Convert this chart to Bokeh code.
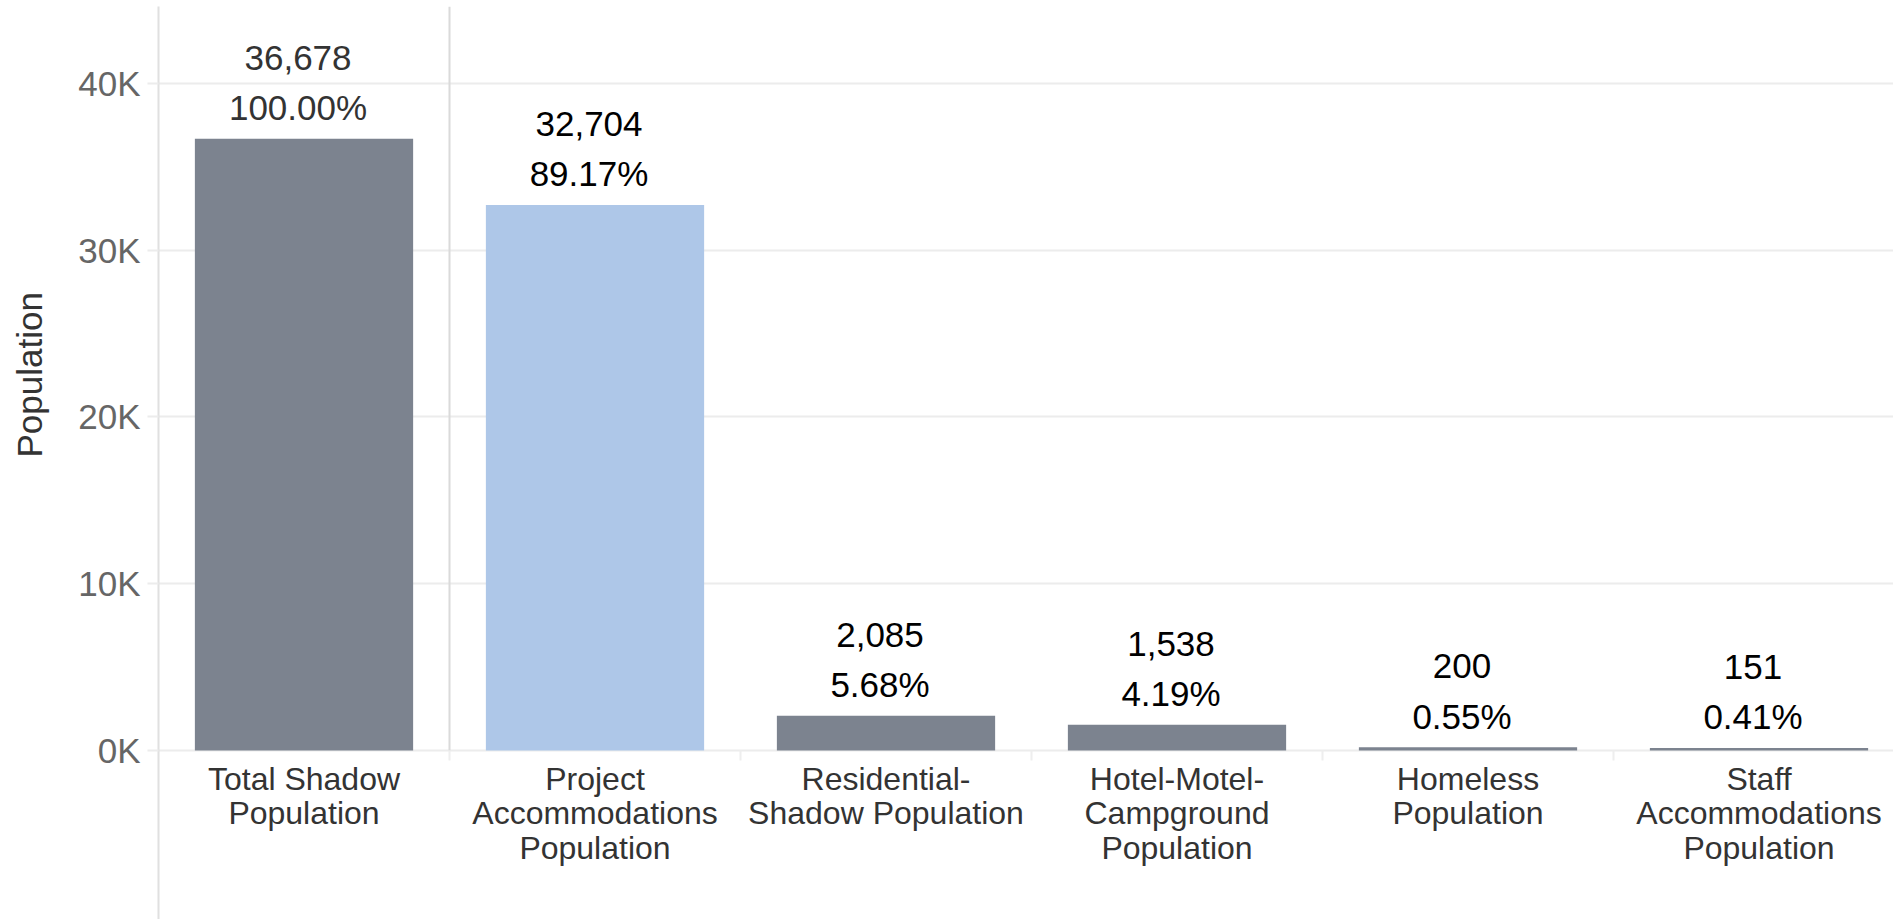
from bokeh.plotting import figure
from bokeh.models import ColumnDataSource, Range1d, FixedTicker, BoxAnnotation, Title
from bokeh.core.properties import value
from bokeh.embed import file_html
from bokeh.resources import INLINE

# ---- data ----
categories = [
    "Total Shadow\nPopulation",
    "Project\nAccommodations\nPopulation",
    "Residential-\nShadow Population",
    "Hotel-Motel-\nCampground\nPopulation",
    "Homeless\nPopulation",
    "Staff\nAccommodations\nPopulation",
]
populations = [36678, 32704, 2085, 1538, 200, 151]
y_ticks = [0, 10000, 20000, 30000, 40000]
y_tick_labels = ["0K", "10K", "20K", "30K", "40K"]

# ---- styles / layout ----
bar_colors = ["#7c838f", "#aec7e8", "#7c838f", "#7c838f", "#7c838f", "#7c838f"]
label_colors = ["#333333", "#000000", "#000000", "#000000", "#000000", "#000000"]
FONT = "Liberation Sans"
W, H = 1893, 919
LEFT, TOP = 158, 6
BASE_Y = 750            # pixel row of the zero line
PX_PER_UNIT_Y = 166.8 / 10000
PX_PER_CAT = 291
Y_START = -(H - BASE_Y) / PX_PER_UNIT_Y
Y_END = (BASE_Y - TOP) / PX_PER_UNIT_Y
X_START = -0.5
X_END = X_START + (W - LEFT) / PX_PER_CAT

total = populations[0]
xs = list(range(len(categories)))
src = ColumnDataSource(dict(
    x=xs,
    top=populations,
    color=bar_colors,
    lcolor=label_colors,
    count=[f"{v:,}" for v in populations],
    pct=[f"{v / total * 100:.2f}%" for v in populations],
))

p = figure(width=W, height=H, output_backend="svg", toolbar_location=None,
           x_range=Range1d(X_START, X_END), y_range=Range1d(Y_START, Y_END),
           min_border_left=LEFT, min_border_right=0, min_border_top=TOP,
           min_border_bottom=0)
p.outline_line_color = None
p.background_fill_color = "white"
p.border_fill_color = "white"

# separator between first and second category (down to the zero line)
half = 1.0 / PX_PER_CAT
p.add_layout(BoxAnnotation(left=0.5 - half, right=0.5 + half, bottom=0, top=Y_END,
                           fill_color="#dadada", fill_alpha=1, line_color=None,
                           level="underlay"))

p.vbar(x="x", top="top", width=0.75, bottom=0, source=src,
       fill_color="color", line_color=None)

p.text(x="x", y="top", text="pct", source=src, text_align="center",
       text_baseline="alphabetic", y_offset=-31, x_offset=-6,
       text_font=value(FONT), text_font_size="35px", text_color="lcolor")
p.text(x="x", y="top", text="count", source=src, text_align="center",
       text_baseline="alphabetic", y_offset=-81, x_offset=-6,
       text_font=value(FONT), text_font_size="35px", text_color="lcolor")

# y axis
yt = FixedTicker(ticks=y_ticks)
p.yaxis.ticker = yt
p.yaxis.major_label_overrides = {t: l for t, l in zip(y_ticks, y_tick_labels)}
p.yaxis.major_label_text_font = FONT
p.yaxis.major_label_text_font_size = "35px"
p.yaxis.major_label_text_color = "#666666"
p.yaxis.major_label_standoff = 7
p.yaxis.major_tick_out = 11
p.yaxis.major_tick_in = 0
p.yaxis.major_tick_line_color = "#ececec"
p.yaxis.major_tick_line_width = 2
p.yaxis.minor_tick_line_color = None
p.yaxis.axis_line_color = "#e0e0e0"
p.yaxis.axis_line_width = 2
# blank spacer label: keeps room between the tick labels and the title
p.yaxis.axis_label = " "
p.yaxis.axis_label_text_font_size = "10px"
p.yaxis.axis_label_standoff = 11

p.add_layout(Title(text="Population", align="left", offset=H - 457, standoff=4,
                   text_font=FONT, text_font_size="35px", text_font_style="normal",
                   text_color="#333333"), "left")

p.ygrid.ticker = yt
p.ygrid.grid_line_color = "#ececec"
p.ygrid.grid_line_width = 2
p.xgrid.grid_line_color = None

# x axis, drawn at the zero line
xt = FixedTicker(ticks=xs, minor_ticks=[i + 0.5 for i in xs[:-1]])
p.xaxis.fixed_location = 0
p.xaxis.ticker = xt
p.xaxis.major_label_overrides = {i: c for i, c in zip(xs, categories)}
p.xaxis.major_label_text_font = FONT
p.xaxis.major_label_text_font_size = "32px"
p.xaxis.major_label_text_color = "#333333"
p.xaxis.major_label_text_line_height = 0.97
p.xaxis.major_label_standoff = 0
p.xaxis.major_tick_out = 0
p.xaxis.major_tick_in = 0
p.xaxis.major_tick_line_color = None
p.xaxis.minor_tick_out = 10
p.xaxis.minor_tick_in = 0
p.xaxis.minor_tick_line_color = "#eeeeee"
p.xaxis.minor_tick_line_width = 2
p.xaxis.axis_line_color = None

open("out.html", "w").write(file_html(p, INLINE))
